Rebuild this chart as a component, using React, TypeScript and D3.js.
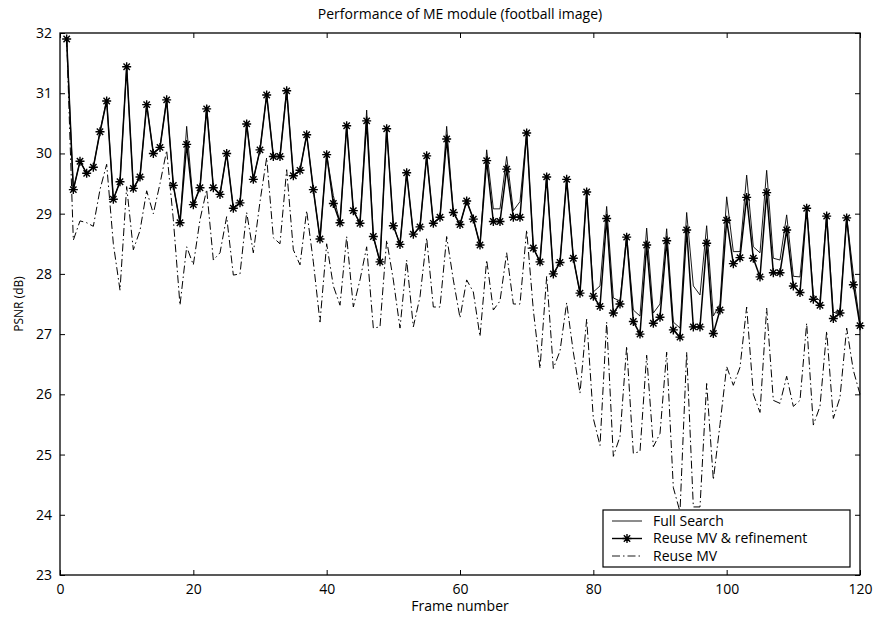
import React, { useEffect, useRef } from "react";
import * as d3 from "d3";

// PSNR per frame (frames 1..120)
const fullSearch = [
  31.9, 29.4, 29.87, 29.67, 29.77, 30.36, 30.9, 29.24, 29.53, 31.45,
  29.42, 29.61, 30.82, 30.0, 30.1, 30.9, 29.47, 28.85, 30.45, 29.15,
  29.43, 30.8, 29.43, 29.32, 30.0, 29.09, 29.18, 30.5, 29.57, 30.06,
  30.98, 29.95, 29.95, 31.08, 29.63, 29.72, 30.31, 29.4, 28.58, 29.98,
  29.3, 28.85, 30.46, 29.05, 28.84, 30.72, 28.62, 28.2, 30.41, 28.8,
  28.49, 29.68, 28.66, 28.78, 29.96, 28.84, 28.94, 30.45, 29.02, 28.82,
  29.21, 28.91, 28.48, 30.06, 29.08, 29.08, 29.95, 29.05, 29.2, 30.36,
  28.43, 28.2, 29.65, 28.0, 28.19, 29.6, 28.26, 27.68, 29.36, 27.7,
  27.8, 29.12, 27.6, 27.55, 28.65, 27.4, 27.3, 28.76, 27.35, 27.5,
  28.75, 27.2, 27.1, 29.02, 27.8, 27.65, 28.8, 27.3, 27.5, 29.28,
  28.37, 28.37, 29.64, 28.45, 28.35, 29.72, 28.26, 28.23, 28.98, 27.96,
  27.95, 29.13, 27.65, 27.55, 29.0, 27.35, 27.4, 28.95, 28.0, 27.15,
];

const reuseRefine = [
  31.9, 29.4, 29.87, 29.67, 29.77, 30.36, 30.87, 29.24, 29.53, 31.44,
  29.42, 29.61, 30.81, 30.0, 30.1, 30.89, 29.47, 28.85, 30.15, 29.15,
  29.43, 30.74, 29.43, 29.32, 30.0, 29.09, 29.18, 30.49, 29.57, 30.06,
  30.97, 29.95, 29.95, 31.04, 29.63, 29.72, 30.31, 29.4, 28.58, 29.98,
  29.17, 28.85, 30.46, 29.05, 28.84, 30.54, 28.62, 28.2, 30.41, 28.8,
  28.49, 29.68, 28.66, 28.78, 29.96, 28.84, 28.94, 30.24, 29.02, 28.82,
  29.21, 28.91, 28.48, 29.88, 28.87, 28.87, 29.74, 28.94, 28.94, 30.34,
  28.43, 28.2, 29.61, 28.0, 28.19, 29.57, 28.26, 27.68, 29.36, 27.63,
  27.46, 28.92, 27.35, 27.5, 28.61, 27.21, 27.0, 28.48, 27.18, 27.28,
  28.55, 27.07, 26.95, 28.73, 27.12, 27.12, 28.51, 27.01, 27.4, 28.89,
  28.17, 28.27, 29.27, 28.26, 27.95, 29.35, 28.02, 28.02, 28.73, 27.8,
  27.69, 29.09, 27.58, 27.48, 28.96, 27.26, 27.35, 28.93, 27.82, 27.14,
];

const reuseMV = [
  31.9, 28.56, 28.88, 28.85, 28.79, 29.4, 29.82, 28.5, 27.73, 29.45,
  28.4, 28.72, 29.38, 29.0, 29.5, 30.05, 28.9, 27.48, 28.45, 28.15,
  28.9, 29.4, 28.23, 28.35, 28.95, 27.98, 28.0, 29.02, 28.35, 29.2,
  29.93, 28.6, 28.5, 29.73, 28.4, 28.15, 29.05, 28.2, 27.2, 28.5,
  27.8, 27.48, 28.62, 27.45, 27.9, 28.45, 27.1, 27.12, 28.56, 27.9,
  27.1, 28.23, 27.12, 27.62, 28.6, 27.45, 27.45, 28.62, 27.9, 27.27,
  27.9, 27.7, 26.96, 28.23, 27.4, 27.55, 28.35, 27.5, 27.5, 28.73,
  27.4, 26.43, 27.96, 26.43, 26.72, 27.52, 26.7, 26.02, 27.25, 25.6,
  25.15, 27.2, 24.97, 25.3, 26.8, 25.02, 25.05, 26.65, 25.13, 25.35,
  26.7, 24.45, 24.05, 26.7, 24.13, 24.13, 26.18, 24.58, 25.5, 26.46,
  26.15, 26.45, 27.45, 26.0, 25.7, 27.43, 25.9, 25.85, 26.3, 25.8,
  25.9, 27.18, 25.49, 25.8, 27.05, 25.6, 25.95, 27.1, 26.4, 26.0,
];

const xTicks = [0, 20, 40, 60, 80, 100, 120];
const yTicks = [23, 24, 25, 26, 27, 28, 29, 30, 31, 32];
const legendLabels = ["Full Search", "Reuse MV & refinement", "Reuse MV"];

const FONT = "'Open Sans', 'DejaVu Sans', sans-serif";
const starPath = (r: number) => {
  const d = r * 0.707;
  return `M${-r},0L${r},0M0,${-r}L0,${r}M${-d},${-d}L${d},${d}M${-d},${d}L${d},${-d}`;
};

const App: React.FC = () => {
  const svgRef = useRef<SVGSVGElement | null>(null);

  useEffect(() => {
    if (!svgRef.current) return;
    const svg = d3.select(svgRef.current);
    svg.selectAll("*").remove();

    const width = 874;
    const height = 617;
    const margin = { top: 33, right: 14, bottom: 42, left: 60 };
    const innerWidth = width - margin.left - margin.right;
    const innerHeight = height - margin.top - margin.bottom;

    svg.attr("width", width).attr("height", height).style("background", "#fff");

    const g = svg
      .append("g")
      .attr("transform", `translate(${margin.left},${margin.top})`);

    const x = d3.scaleLinear().domain([0, 120]).range([0, innerWidth]);
    const y = d3.scaleLinear().domain([23, 32]).range([innerHeight, 0]);

    // axes (MATLAB style: inward ticks on all sides)
    const bottom = g
      .append("g")
      .attr("transform", `translate(0,${innerHeight})`)
      .call(d3.axisBottom(x).tickValues(xTicks).tickSizeInner(-5).tickSizeOuter(0).tickPadding(9));
    const left = g
      .append("g")
      .call(d3.axisLeft(y).tickValues(yTicks).tickSizeInner(-5).tickSizeOuter(0).tickPadding(8));
    g.append("g")
      .call(d3.axisTop(x).tickValues(xTicks).tickSizeInner(-5).tickSizeOuter(0).tickFormat(() => ""));
    g.append("g")
      .attr("transform", `translate(${innerWidth},0)`)
      .call(d3.axisRight(y).tickValues(yTicks).tickSizeInner(-5).tickSizeOuter(0).tickFormat(() => ""));

    g.selectAll(".domain").remove();
    g.selectAll(".tick line").attr("stroke", "#000").attr("stroke-width", 1);
    [bottom, left].forEach((a) =>
      a.selectAll("text").attr("fill", "#000").style("font-family", FONT).style("font-size", "14px")
    );

    g.append("rect")
      .attr("width", innerWidth)
      .attr("height", innerHeight)
      .attr("fill", "none")
      .attr("stroke", "#000")
      .attr("stroke-width", 1.3);

    const line = (vals: number[]) =>
      d3
        .line<number>()
        .x((_, i) => x(i + 1))
        .y((d) => y(d))(vals);

    const plot = g.append("g");

    plot
      .append("path")
      .attr("d", line(reuseMV))
      .attr("fill", "none")
      .attr("stroke", "#000")
      .attr("stroke-width", 1)
      .attr("stroke-dasharray", "8,3,1.5,3");

    plot
      .append("path")
      .attr("d", line(fullSearch))
      .attr("fill", "none")
      .attr("stroke", "#000")
      .attr("stroke-width", 0.9);

    plot
      .append("path")
      .attr("d", line(reuseRefine))
      .attr("fill", "none")
      .attr("stroke", "#000")
      .attr("stroke-width", 1.5);

    plot
      .selectAll("path.star")
      .data(reuseRefine)
      .enter()
      .append("path")
      .attr("class", "star")
      .attr("transform", (d, i) => `translate(${x(i + 1)},${y(d)})`)
      .attr("d", starPath(4.5))
      .attr("stroke", "#000")
      .attr("stroke-width", 1.4);

    // title and axis labels
    svg
      .append("text")
      .attr("x", margin.left + innerWidth / 2)
      .attr("y", 19)
      .attr("text-anchor", "middle")
      .style("font-family", FONT)
      .style("font-size", "14px")
      .text("Performance of ME module (football image)");

    svg
      .append("text")
      .attr("x", margin.left + innerWidth / 2)
      .attr("y", 611)
      .attr("text-anchor", "middle")
      .style("font-family", FONT)
      .style("font-size", "14px")
      .text("Frame number");

    svg
      .append("text")
      .attr("transform", `translate(23,${margin.top + innerHeight / 2}) rotate(-90)`)
      .attr("text-anchor", "middle")
      .style("font-family", FONT)
      .style("font-size", "12px")
      .text("PSNR (dB)");

    // legend
    const lg = svg.append("g").attr("transform", "translate(603,510)");
    lg.append("rect")
      .attr("width", 247)
      .attr("height", 57)
      .attr("fill", "#fff")
      .attr("stroke", "#000")
      .attr("stroke-width", 1.2);

    const rows = lg
      .selectAll("g.row")
      .data(legendLabels)
      .enter()
      .append("g")
      .attr("transform", (_, i) => `translate(0,${11 + i * 17.5})`);

    rows
      .append("line")
      .attr("x1", 9)
      .attr("x2", 39)
      .attr("stroke", "#000")
      .attr("stroke-width", (_, i) => (i === 1 ? 1.4 : 0.9))
      .attr("stroke-dasharray", (_, i) => (i === 2 ? "8,3,1.5,3" : null));

    rows
      .filter((_, i) => i === 1)
      .append("path")
      .attr("transform", "translate(24,0)")
      .attr("d", starPath(4.5))
      .attr("stroke", "#000")
      .attr("stroke-width", 1.4);

    rows
      .append("text")
      .attr("x", 50)
      .attr("dy", "0.35em")
      .style("font-family", FONT)
      .style("font-size", "14px")
      .text((d) => d);
  }, []);

  return (
    <svg
      ref={svgRef}
      style={{ position: "absolute", left: 0, top: 0, display: "block" }}
    ></svg>
  );
};

export default App;
